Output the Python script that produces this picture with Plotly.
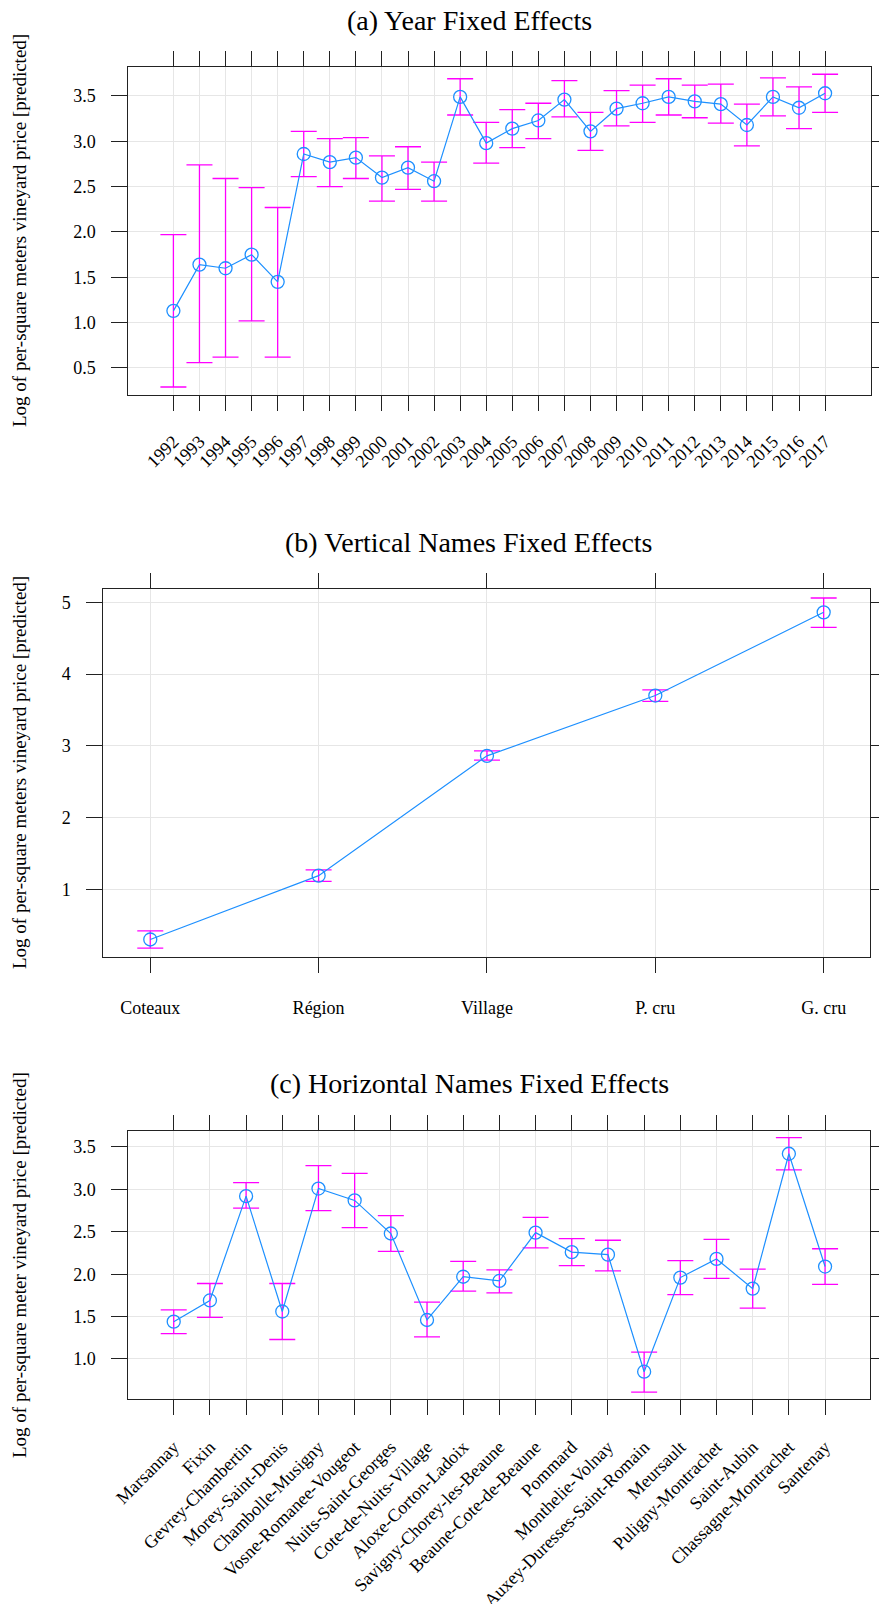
import plotly.graph_objects as go

# ---------------- data ----------------
years = ["1992", "1993", "1994", "1995", "1996", "1997", "1998", "1999", "2000",
         "2001", "2002", "2003", "2004", "2005", "2006", "2007", "2008", "2009",
         "2010", "2011", "2012", "2013", "2014", "2015", "2016", "2017"]
year_est = [1.13, 1.64, 1.60, 1.75, 1.45, 2.86, 2.77, 2.82, 2.60, 2.71, 2.56, 3.49, 2.98,
            3.14, 3.23, 3.46, 3.11, 3.36, 3.42, 3.49, 3.44, 3.41, 3.18, 3.49, 3.37, 3.53]
year_lo = [0.29, 0.56, 0.62, 1.02, 0.62, 2.61, 2.50, 2.59, 2.34, 2.47, 2.34, 3.29, 2.76,
           2.93, 3.03, 3.27, 2.90, 3.17, 3.21, 3.29, 3.26, 3.20, 2.95, 3.28, 3.14, 3.32]
year_hi = [1.97, 2.74, 2.59, 2.49, 2.27, 3.11, 3.03, 3.04, 2.84, 2.94, 2.77, 3.69, 3.21,
           3.35, 3.42, 3.67, 3.32, 3.56, 3.62, 3.69, 3.62, 3.63, 3.41, 3.70, 3.60, 3.74]

vert_names = ["Coteaux", "Région", "Village", "P. cru", "G. cru"]
vert_est = [0.30, 1.19, 2.86, 3.70, 4.86]
vert_lo = [0.18, 1.11, 2.80, 3.62, 4.65]
vert_hi = [0.42, 1.27, 2.93, 3.78, 5.06]

horiz_names = ["Marsannay", "Fixin", "Gevrey-Chambertin", "Morey-Saint-Denis",
               "Chambolle-Musigny", "Vosne-Romanee-Vougeot", "Nuits-Saint-Georges",
               "Cote-de-Nuits-Village", "Aloxe-Corton-Ladoix", "Savigny-Chorey-les-Beaune",
               "Beaune-Cote-de-Beaune", "Pommard", "Monthelie-Volnay",
               "Auxey-Duresses-Saint-Romain", "Meursault", "Puligny-Montrachet",
               "Saint-Aubin", "Chassagne-Montrachet", "Santenay"]
horiz_est = [1.44, 1.69, 2.92, 1.56, 3.01, 2.87, 2.48, 1.46, 1.97, 1.92, 2.49, 2.26, 2.23,
             0.85, 1.96, 2.18, 1.83, 3.42, 2.09]
horiz_lo = [1.30, 1.49, 2.78, 1.23, 2.75, 2.55, 2.27, 1.26, 1.80, 1.78, 2.31, 2.10, 2.04,
            0.61, 1.76, 1.95, 1.60, 3.23, 1.88]
horiz_hi = [1.58, 1.89, 3.08, 1.89, 3.28, 3.19, 2.69, 1.67, 2.15, 2.05, 2.67, 2.42, 2.40,
            1.08, 2.16, 2.41, 2.06, 3.61, 2.30]

titles = ["(a) Year Fixed Effects", "(b) Vertical Names Fixed Effects",
          "(c) Horizontal Names Fixed Effects"]
ylabels = ["Log of per-square meters vineyard price [predicted]",
           "Log of per-square meters vineyard price [predicted]",
           "Log of per-square meter vineyard price [predicted]"]

# ---------------- style ----------------
W, H = 879, 1604
FONT = "Liberation Serif"
BLUE = "#1E90FF"
MAG = "#FF00FF"
GRID = "#E6E6E6"
AX = "#222222"


def py(p):
    return 1 - p / H


def px(p):
    return p / W


fig = go.Figure()

panels = [
    dict(cats=years, est=year_est, lo=year_lo, hi=year_hi,
         xd=[px(128.3), px(870.7)], yd=[py(395.0), py(66.7)],
         xr=[-1.73, 26.75], yr=[0.202, 3.823],
         yt=[0.5, 1.0, 1.5, 2.0, 2.5, 3.0, 3.5], yfmt=".1f", angle=-45, standoff=13,
         title_y=20, label_y=231),
    dict(cats=vert_names, est=vert_est, lo=vert_lo, hi=vert_hi,
         xd=[px(103.3), px(870.3)], yd=[py(956.7), py(589.3)],
         xr=[-0.279, 4.277], yr=[0.06, 5.181],
         yt=[1, 2, 3, 4, 5], yfmt="d", angle=0, standoff=20,
         title_y=542, label_y=773),
    dict(cats=horiz_names, est=horiz_est, lo=horiz_lo, hi=horiz_hi,
         xd=[px(128.3), px(870.3)], yd=[py(1398.5), py(1131.3)],
         xr=[-1.255, 19.25], yr=[0.534, 3.685],
         yt=[1.0, 1.5, 2.0, 2.5, 3.0, 3.5], yfmt=".1f", angle=-45, standoff=15,
         title_y=1083, label_y=1265),
]

annotations = []
for i, p in enumerate(panels):
    k = "" if i == 0 else str(i + 1)
    err_plus = [h - e for h, e in zip(p["hi"], p["est"])]
    err_minus = [e - l for e, l in zip(p["est"], p["lo"])]
    fig.add_trace(go.Scatter(
        x=p["cats"], y=p["est"], mode="lines+markers",
        xaxis="x" + k, yaxis="y" + k,
        line=dict(color=BLUE, width=1.2),
        marker=dict(symbol="circle-open", size=13, color=BLUE, line=dict(width=1.3, color=BLUE)),
        error_y=dict(type="data", symmetric=False, array=err_plus, arrayminus=err_minus,
                     color=MAG, thickness=1.3, width=13),
        showlegend=False,
    ))
    xaxis = dict(
        domain=p["xd"], anchor="y" + k, type="category",
        categoryorder="array", categoryarray=p["cats"],
        range=p["xr"], tickmode="array", tickvals=p["cats"], ticktext=p["cats"],
        tickangle=p["angle"], ticks="outside", ticklen=15, tickwidth=1, tickcolor=AX,
        showline=True, linecolor=AX, linewidth=1, mirror="ticks",
        showgrid=True, gridcolor=GRID, gridwidth=1, zeroline=False,
        tickfont=dict(family=FONT, size=18, color="black"),
        ticklabelstandoff=p["standoff"], automargin=False, fixedrange=True,
    )
    yaxis = dict(
        domain=p["yd"], anchor="x" + k, range=p["yr"],
        tickmode="array", tickvals=p["yt"], tickformat=p["yfmt"],
        ticks="outside", ticklen=16, tickwidth=1, tickcolor=AX,
        showline=True, linecolor=AX, linewidth=1, mirror="ticks",
        showgrid=True, gridcolor=GRID, gridwidth=1, zeroline=False,
        tickfont=dict(family=FONT, size=18, color="black"),
        ticklabelstandoff=12, automargin=False, fixedrange=True,
    )
    fig.update_layout({"xaxis" + k: xaxis, "yaxis" + k: yaxis})

    annotations.append(dict(
        text=titles[i], xref="paper", yref="paper", x=px(469), y=py(p["title_y"]),
        xanchor="center", yanchor="middle", showarrow=False,
        font=dict(family=FONT, size=28, color="black")))
    annotations.append(dict(
        text=ylabels[i], xref="paper", yref="paper", x=px(19), y=py(p["label_y"]),
        xanchor="center", yanchor="middle", showarrow=False, textangle=-90,
        font=dict(family=FONT, size=19, color="black")))

fig.update_layout(
    width=W, height=H,
    margin=dict(l=0, r=0, t=0, b=0),
    paper_bgcolor="white", plot_bgcolor="white",
    annotations=annotations,
    font=dict(family=FONT, color="black"),
)

fig.write_html("out.html")
